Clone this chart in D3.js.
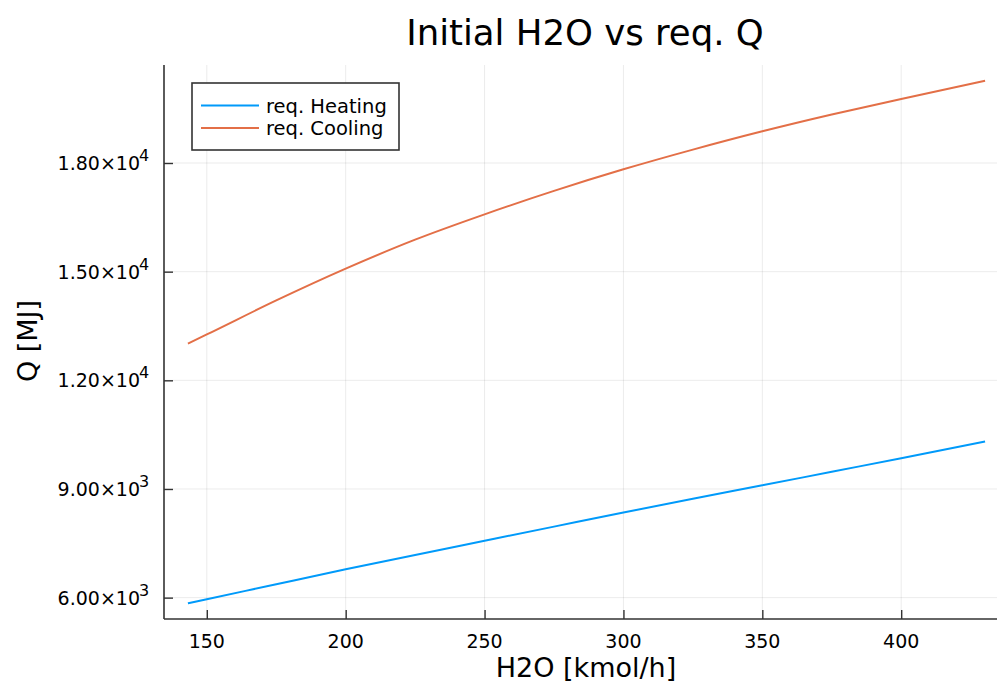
<!DOCTYPE html>
<html lang="en">
<head>
  <meta charset="UTF-8">
  <title>Initial H2O vs req. Q</title>
  <script src="https://d3js.org/d3.v7.min.js"></script>
  <style>
    html, body { margin: 0; padding: 0; background: #fff; }
    svg { display: block; font-family: "DejaVu Sans", sans-serif; }
    .grid line { stroke: #000; stroke-opacity: 0.08; stroke-width: 1px; }
    .tick-label { font-size: 19px; fill: #000; }
  </style>
</head>
<body>
  <svg width="997" height="688"></svg>
  <script>
    // values
    const h2o     = [143.2, 150, 175, 200, 225, 250, 275, 300, 325, 350, 375, 400, 430.2];
    const heating = [5843, 5955, 6370, 6782, 7180, 7570, 7960, 8350, 8730, 9100, 9475, 9848, 10309];
    const cooling = [13014, 13266, 14205, 15083, 15884, 16583, 17230, 17826, 18370, 18876, 19340, 19768, 20273];
    const xTicks  = [150, 200, 250, 300, 350, 400];
    const yTicks  = [6000, 9000, 12000, 15000, 18000];
    const seriesNames  = ["req. Heating", "req. Cooling"];
    const seriesColors = ["#009AFA", "#E36F47"];

    const svg = d3.select("svg");
    const padL = 164, padB = 619, padT = 65, padR = 1009;

    // Plots.jl style 3% padding on data extent
    const xExt = d3.extent(h2o), xPad = (xExt[1] - xExt[0]) * 0.03;
    const yAll = heating.concat(cooling);
    const yExt = d3.extent(yAll), yPad = (yExt[1] - yExt[0]) * 0.03;

    const x = d3.scaleLinear().domain([xExt[0] - xPad, xExt[1] + xPad]).range([padL, padR]);
    const y = d3.scaleLinear().domain([yExt[0] - yPad, yExt[1] + yPad]).range([padB, padT]);

    // grid
    const grid = svg.append("g").attr("class", "grid");
    grid.selectAll(".gx").data(xTicks).enter().append("line")
      .attr("x1", d => x(d)).attr("x2", d => x(d)).attr("y1", padT).attr("y2", padB);
    grid.selectAll(".gy").data(yTicks).enter().append("line")
      .attr("x1", padL).attr("x2", padR).attr("y1", d => y(d)).attr("y2", d => y(d));

    // axes with inward ticks
    const xAxis = svg.append("g").attr("transform", `translate(0,${padB})`)
      .call(d3.axisTop(x).tickValues(xTicks).tickSize(9).tickFormat(""));
    const yAxis = svg.append("g").attr("transform", `translate(${padL},0)`)
      .call(d3.axisRight(y).tickValues(yTicks).tickSize(9).tickFormat(""));
    [xAxis, yAxis].forEach(a => {
      a.select(".domain").attr("stroke", "#333").attr("stroke-width", 1.6);
      a.selectAll(".tick line").attr("stroke", "#333").attr("stroke-width", 1.4);
    });
    xAxis.select(".domain").attr("d", `M${padL},0H${padR}`);
    yAxis.select(".domain").attr("d", `M0,${padB}V${padT}`);

    // tick labels
    svg.selectAll(".xl").data(xTicks).enter().append("text")
      .attr("class", "tick-label")
      .attr("x", d => x(d)).attr("y", padB + 29)
      .attr("text-anchor", "middle").text(d => d);

    svg.selectAll(".yl").data(yTicks).enter().append("text")
      .attr("class", "tick-label")
      .attr("x", 140).attr("y", d => y(d) + 7)
      .attr("text-anchor", "end")
      .text(d => {
        const e = Math.floor(Math.log10(d));
        return (d / Math.pow(10, e)).toFixed(2) + "\u00d710";
      });
    svg.selectAll(".ye").data(yTicks).enter().append("text")
      .attr("class", "tick-label")
      .attr("x", 139).attr("y", d => y(d) - 2)
      .style("font-size", "16px")
      .text(d => Math.floor(Math.log10(d)));

    // lines
    const line = vals => d3.line().curve(d3.curveMonotoneX)
      .x((d, i) => x(h2o[i])).y(d => y(d))(vals);
    [heating, cooling].forEach((vals, i) => {
      svg.append("path").attr("d", line(vals))
        .attr("fill", "none").attr("stroke", seriesColors[i]).attr("stroke-width", 2);
    });

    // legend
    const lg = svg.append("g");
    lg.append("rect").attr("x", 192).attr("y", 83).attr("width", 207).attr("height", 67)
      .attr("fill", "#fff").attr("stroke", "#333").attr("stroke-width", 1.6);
    seriesNames.forEach((name, i) => {
      const ly = 105.5 + i * 22.5;
      lg.append("line").attr("x1", 201).attr("x2", 259).attr("y1", ly).attr("y2", ly)
        .attr("stroke", seriesColors[i]).attr("stroke-width", 2);
      lg.append("text").attr("x", 266).attr("y", ly + 7).style("font-size", "19.5px").text(name);
    });

    // titles
    svg.append("text").attr("x", 585).attr("y", 45).attr("text-anchor", "middle")
      .style("font-size", "35.5px").text("Initial H2O vs req. Q");
    svg.append("text").attr("x", 586).attr("y", 677).attr("text-anchor", "middle")
      .style("font-size", "27px").text("H2O [kmol/h]");
    svg.append("text").attr("transform", "translate(37,341) rotate(-90)").attr("text-anchor", "middle")
      .style("font-size", "27px").text("Q [MJ]");
  </script>
</body>
</html>
